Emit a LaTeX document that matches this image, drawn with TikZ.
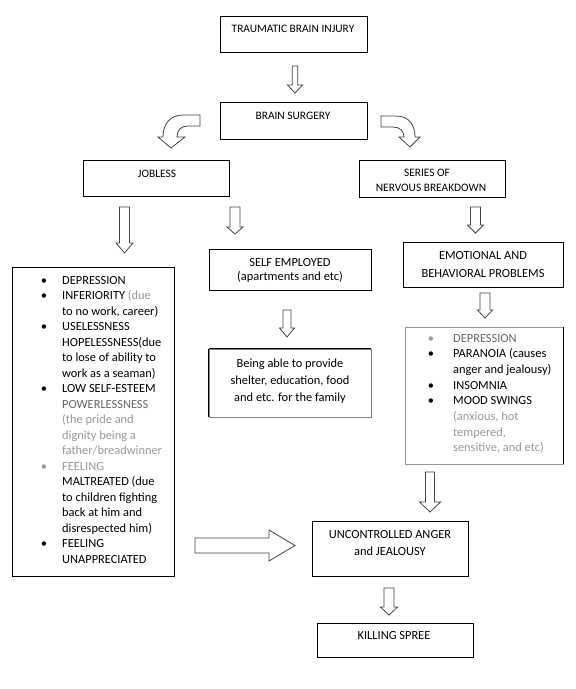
\documentclass[tikz,border=0pt]{standalone}
\usepackage{fontspec}
\setmainfont{Carlito}
\usetikzlibrary{positioning}
\definecolor{gtxt}{HTML}{9A9A9A}
\definecolor{dgtxt}{HTML}{666666}
\definecolor{arw}{HTML}{444444}
\newcommand{\DArrow}[6]{\draw[blk] ({#1-#5},#2) -- ({#1+#5},#2) -- ({#1+#5},#3) -- ({#1+#6},#3) -- (#1,#4) -- ({#1-#6},#3) -- ({#1-#5},#3) -- cycle;}
\begin{document}
\begin{tikzpicture}[x=1pt,y=-1pt,
  box/.style={draw=black,line width=0.8pt,fill=white,inner sep=0pt},
  blk/.style={draw=arw,line width=0.8pt,fill=white,line join=miter},
  ttop/.style={font=\fontsize{11.4}{13}\selectfont,anchor=base,inner sep=0pt},
  tlow/.style={font=\fontsize{12.4}{14}\selectfont,anchor=base,inner sep=0pt},
  li/.style={font=\fontsize{12.4}{14}\selectfont,anchor=base west,inner sep=0pt},
  bul/.style={font=\fontsize{12.4}{14}\selectfont,anchor=base,inner sep=0pt}]
\useasboundingbox[fill=white] (0,0) rectangle (576,689);

% boxes
\node[box,minimum width=147pt,minimum height=36pt] (tbi) at (293.5,34) {};
\node[box,minimum width=147pt,minimum height=37pt] (bs) at (293.5,120.5) {};
\node[box,minimum width=146pt,minimum height=36pt] (job) at (156,178) {};
\node[box,minimum width=146pt,minimum height=37pt] (ser) at (432,178.5) {};
\node[box,minimum width=162pt,minimum height=309pt] (lst) at (93,421.5) {};
\node[box,minimum width=162pt,minimum height=41pt] (se) at (290,269.5) {};
\node[box,draw=gray,minimum width=162pt,minimum height=68pt] (ba) at (290,383) {};
\draw[black,line width=0.8pt] (ba.north west) -- (ba.north east);
\draw[black,line width=0.8pt] (ba.north west) -- (ba.south west);
\node[box,minimum width=160pt,minimum height=45pt] (emo) at (483,264.5) {};
\node[box,draw=gray!80,minimum width=158pt,minimum height=137pt] (rl) at (484,395.5) {};
\draw[black,line width=0.8pt] (rl.north east) -- (rl.south east);
\node[box,minimum width=156pt,minimum height=55pt] (unc) at (390,548.5) {};
\node[box,minimum width=156pt,minimum height=34pt] (ks) at (395,640) {};

% box texts
\node[ttop] (tbit) at (293,32) {TRAUMATIC BRAIN INJURY};
\node[ttop] (bst) at (293,119) {BRAIN SURGERY};
\node[ttop] (jobt) at (157,177) {JOBLESS};
\node[ttop] (sert1) at (427,176) {SERIES OF};
\node[ttop] (sert2) at (431,191) {NERVOUS BREAKDOWN};
\node[tlow] (set1) at (290,266) {SELF EMPLOYED};
\node[tlow] (set2) at (290,280.5) {(apartments and etc)};
\node[tlow] (bat1) at (290,367.5) {Being able to provide};
\node[tlow] (bat2) at (290,384) {shelter, education, food};
\node[tlow] (bat3) at (290,401) {and etc. for the family};
\node[tlow] (emot1) at (483,259.5) {EMOTIONAL AND};
\node[tlow] (emot2) at (483,277) {BEHAVIORAL PROBLEMS};
\node[tlow] (unct1) at (390,538) {UNCONTROLLED ANGER};
\node[tlow] (unct2) at (390,555) {and JEALOUSY};
\node[tlow] (kst) at (394,639) {KILLING SPREE};

% left list
\node[bul] (b1) at (44,284) {•};
\node[li] (l1) at (62,284) {DEPRESSION};
\node[bul] (b2) at (44,299.5) {•};
\node[li] (l2) at (62,299.5) {INFERIORITY \textcolor{gtxt}{(due}};
\node[li] (l3) at (62,315) {to no work, career)};
\node[bul] (b4) at (44,330.5) {•};
\node[li] (l4) at (62,330.5) {USELESSNESS};
\node[li] (l5) at (62,346) {HOPELESSNESS(due};
\node[li] (l6) at (62,361.5) {to lose of ability to};
\node[li] (l7) at (62,377) {work as a seaman)};
\node[bul] (b8) at (44,392.5) {•};
\node[li] (l8) at (62,392.5) {LOW SELF-ESTEEM};
\node[li,text=dgtxt] (l9) at (62,408) {POWERLESSNESS};
\node[li,text=gtxt] (l10) at (62,423.5) {(the pride and};
\node[li,text=gtxt] (l11) at (62,439) {dignity being a};
\node[li,text=gtxt] (l12) at (62,454.5) {father/breadwinner};
\node[bul,text=gtxt] (b13) at (44,470) {•};
\node[li,text=gtxt] (l13) at (62,470) {FEELING};
\node[li] (l14) at (62,485.5) {MALTREATED (due};
\node[li] (l15) at (62,501) {to children fighting};
\node[li] (l16) at (62,516.5) {back at him and};
\node[li] (l17) at (62,532) {disrespected him)};
\node[bul] (b18) at (44,547.5) {•};
\node[li] (l18) at (62,547.5) {FEELING};
\node[li] (l19) at (62,563) {UNAPPRECIATED};

% right list
\node[bul,text=gtxt] (rb1) at (431,342) {•};
\node[li,text=dgtxt] (r1) at (453,342) {DEPRESSION};
\node[bul] (rb2) at (431,357.7) {•};
\node[li] (r2) at (453,357.7) {PARANOIA (causes};
\node[li] (r3) at (453,373.4) {anger and jealousy)};
\node[bul] (rb4) at (431,389.1) {•};
\node[li] (r4) at (453,389.1) {INSOMNIA};
\node[bul] (rb5) at (431,404.8) {•};
\node[li] (r5) at (453,404.8) {MOOD SWINGS};
\node[li,text=gtxt] (r6) at (453,420.5) {(anxious, hot};
\node[li,text=gtxt] (r7) at (453,436.2) {tempered,};
\node[li,text=gtxt] (r8) at (453,451.9) {sensitive, and etc)};

% straight block arrows
\DArrow{295}{66}{85}{93}{2.8}{7.5}
\DArrow{124.5}{207}{243}{253}{5}{8.5}
\DArrow{235}{207}{227}{234}{5}{8}
\DArrow{287}{310}{328}{337}{4}{7.5}
\DArrow{475.5}{207}{225}{233}{5}{8}
\DArrow{485}{293}{310}{318}{5}{7.5}
\DArrow{430}{472}{502}{512}{4.5}{10.5}
\DArrow{389}{588}{607}{615}{5}{8.5}

% right-pointing block arrow
\draw[blk] (195,538) -- (269,538) -- (269,530) -- (295,545.5) -- (269,561) -- (269,553) -- (195,553) -- cycle;

% curved arrows
\draw[blk] (200,115) -- (183,115) .. controls (170,115) and (163,124) .. (163,137)
  -- (158,137) -- (171,148) -- (185,137) -- (177,137)
  .. controls (177,130) and (181,126) .. (188,126) -- (200,126) -- cycle;
\draw[blk] (381,116) -- (396,116) .. controls (409,116) and (415,125) .. (415,137)
  -- (420,137) -- (410,147) -- (399,137) -- (404,137)
  .. controls (404,131) and (400,127) .. (393,127) -- (381,127) -- cycle;
\end{tikzpicture}
\end{document}
